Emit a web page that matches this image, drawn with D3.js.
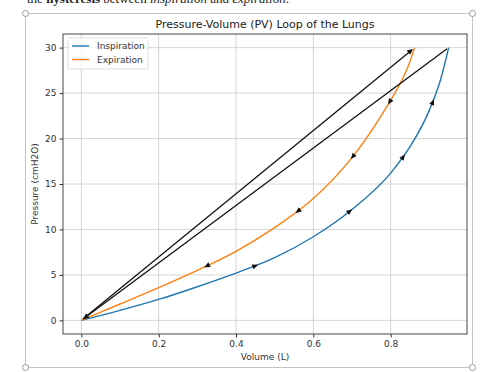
<!DOCTYPE html>
<html>
<head>
<meta charset="utf-8">
<script src="https://cdn.jsdelivr.net/npm/d3@7"></script>
<style>
  body { margin: 0; background: #fff; }
  svg { display: block; font-family: "DejaVu Sans", sans-serif; }
</style>
</head>
<body>
<div id="chart"></div>
<script>
// Inspiration curve, volume (L) vs pressure (cmH2O)
const inspVolume = [0, 0.1, 0.2, 0.3, 0.4, 0.5, 0.6, 0.7, 0.8, 0.85, 0.9, 0.93, 0.95];
const inspPressure = [0, 1.1, 2.3, 3.7, 5.2, 6.9, 9.2, 12.2, 16.2, 19.1, 23.1, 26.6, 30];

// Expiration curve, stored from the top back to the origin
const expVolume = [0.862, 0.84, 0.8, 0.7, 0.6, 0.5, 0.4, 0.3, 0.2, 0.1, 0];
const expPressure = [30, 27.4, 24.2, 17.9, 13.4, 10.2, 7.6, 5.5, 3.6, 1.8, 0];

// pressures where the direction arrows sit on each curve
const arrowPressures = [6, 12, 18, 24];

// the two straight black arrows: [from, to]
const blackArrows = [
    [[0, 0], [0.862, 30]],
    [[0.95, 30], [0, 0]]
];

const xTicks = [0, 0.2, 0.4, 0.6, 0.8];
const yTicks = [0, 5, 10, 15, 20, 25, 30];

const width = 480;
const height = 372;
const plot = { left: 63, right: 467, top: 34, bottom: 334 };

const svg = d3.select("#chart").append("svg")
    .attr("width", width)
    .attr("height", height);

// document text above the figure (cut off at the top)
const docText = svg.append("text")
    .attr("x", 27)
    .attr("y", 3)
    .attr("font-family", "Liberation Serif, serif")
    .attr("font-size", "13px")
    .attr("fill", "#222");
docText.append("tspan").text("the ");
docText.append("tspan").attr("font-weight", "bold").text("hysteresis");
docText.append("tspan").text(" between ");
docText.append("tspan").attr("font-style", "italic").text("inspiration");
docText.append("tspan").text(" and ");
docText.append("tspan").attr("font-style", "italic").text("expiration");
docText.append("tspan").text(".");

// picture frame
svg.append("rect")
    .attr("x", 25.5)
    .attr("y", 13.5)
    .attr("width", 447)
    .attr("height", 354)
    .attr("fill", "#fff")
    .attr("stroke", "#c4c4c4");

// scales
const x = d3.scaleLinear()
    .domain([-0.0475, 0.9975])
    .range([plot.left, plot.right]);

const y = d3.scaleLinear()
    .domain([-1.5, 31.5])
    .range([plot.bottom, plot.top]);

// grid
const g = svg.append("g");
xTicks.forEach(t => {
    g.append("line")
        .attr("x1", x(t)).attr("x2", x(t))
        .attr("y1", plot.top).attr("y2", plot.bottom)
        .attr("stroke", "#cccccc").attr("stroke-width", 0.8);
});
yTicks.forEach(t => {
    g.append("line")
        .attr("x1", plot.left).attr("x2", plot.right)
        .attr("y1", y(t)).attr("y2", y(t))
        .attr("stroke", "#cccccc").attr("stroke-width", 0.8);
});

// axes
const xAxis = svg.append("g")
    .attr("transform", `translate(0,${plot.bottom})`)
    .call(d3.axisBottom(x).tickValues(xTicks).tickFormat(d3.format(".1f")).tickSizeOuter(0).tickSize(3.5).tickPadding(3));
const yAxis = svg.append("g")
    .attr("transform", `translate(${plot.left},0)`)
    .call(d3.axisLeft(y).tickValues(yTicks).tickSizeOuter(0).tickSize(3.5).tickPadding(3));

[xAxis, yAxis].forEach(a => {
    a.select(".domain").remove();
    a.selectAll("text").attr("font-size", "9px").attr("fill", "#333").attr("font-family", "DejaVu Sans, sans-serif");
    a.selectAll("line").attr("stroke", "#333");
});

// spines
svg.append("rect")
    .attr("x", plot.left)
    .attr("y", plot.top)
    .attr("width", plot.right - plot.left)
    .attr("height", plot.bottom - plot.top)
    .attr("fill", "none")
    .attr("stroke", "#333")
    .attr("stroke-width", 0.9);

// title and labels
svg.append("text")
    .attr("x", (plot.left + plot.right) / 2)
    .attr("y", 28)
    .attr("text-anchor", "middle")
    .attr("font-size", "11px")
    .attr("fill", "#222")
    .text("Pressure-Volume (PV) Loop of the Lungs");

svg.append("text")
    .attr("x", (plot.left + plot.right) / 2)
    .attr("y", 360)
    .attr("text-anchor", "middle")
    .attr("font-size", "9px")
    .attr("fill", "#333")
    .text("Volume (L)");

svg.append("text")
    .attr("transform", `translate(38,${(plot.top + plot.bottom) / 2}) rotate(-90)`)
    .attr("text-anchor", "middle")
    .attr("font-size", "9px")
    .attr("fill", "#333")
    .text("Pressure (cmH2O)");

// curves
const inspLine = d3.line()
    .x(d => x(d[0]))
    .y(d => y(d[1]))
    .curve(d3.curveMonotoneX);

const expLine = d3.line()
    .x(d => x(d[0]))
    .y(d => y(d[1]))
    .curve(d3.curveCatmullRom.alpha(0.5));

const series = [
    { name: "Inspiration", color: "#1f77b4", pts: d3.zip(inspVolume, inspPressure), line: inspLine },
    { name: "Expiration", color: "#ff7f0e", pts: d3.zip(expVolume, expPressure), line: expLine }
];

function arrowHead(parent, px, py, angle, len, half) {
    const pts = [[len / 2, 0], [-len / 2, -half], [-len / 2, half]];
    parent.append("path")
        .attr("d", "M" + pts.join("L") + "Z")
        .attr("transform", `translate(${px},${py}) rotate(${angle * 180 / Math.PI})`)
        .attr("fill", "#111");
}

series.forEach(s => {
    const path = svg.append("path")
        .datum(s.pts)
        .attr("d", s.line)
        .attr("fill", "none")
        .attr("stroke", s.color)
        .attr("stroke-width", 1.4);

    // place arrows where the curve reaches each pressure
    const node = path.node();
    const total = node.getTotalLength();
    arrowPressures.forEach(p => {
        const target = y(p);
        let best = 0, bestD = Infinity;
        for (let l = 0; l <= total; l += 0.5) {
            const pt = node.getPointAtLength(l);
            const dd = Math.abs(pt.y - target);
            if (dd < bestD) { bestD = dd; best = l; }
        }
        const a = node.getPointAtLength(Math.max(0, best - 1));
        const b = node.getPointAtLength(Math.min(total, best + 1));
        const c = node.getPointAtLength(best);
        arrowHead(svg, c.x, c.y, Math.atan2(b.y - a.y, b.x - a.x), 6, 2.6);
    });
});

// straight black arrows
blackArrows.forEach(([from, to]) => {
    const x0 = x(from[0]), y0 = y(from[1]), x1 = x(to[0]), y1 = y(to[1]);
    const ang = Math.atan2(y1 - y0, x1 - x0);
    const shrink = 2;
    const ex = x1 - Math.cos(ang) * shrink, ey = y1 - Math.sin(ang) * shrink;
    const sx = x0 + Math.cos(ang) * shrink, sy = y0 + Math.sin(ang) * shrink;
    svg.append("line")
        .attr("x1", sx).attr("y1", sy)
        .attr("x2", ex - Math.cos(ang) * 4).attr("y2", ey - Math.sin(ang) * 4)
        .attr("stroke", "#111")
        .attr("stroke-width", 1.3);
    arrowHead(svg, ex - Math.cos(ang) * 3, ey - Math.sin(ang) * 3, ang, 6, 2.8);
});

// legend
const legend = svg.append("g").attr("transform", "translate(68,38)");
legend.append("rect")
    .attr("width", 80)
    .attr("height", 31)
    .attr("rx", 2)
    .attr("fill", "#fff")
    .attr("fill-opacity", 0.8)
    .attr("stroke", "#d6d6d6")
    .attr("stroke-width", 0.8);
series.forEach((s, i) => {
    const ly = 8 + i * 13.5;
    legend.append("line")
        .attr("x1", 4).attr("x2", 21)
        .attr("y1", ly).attr("y2", ly)
        .attr("stroke", s.color)
        .attr("stroke-width", 1.4);
    legend.append("text")
        .attr("x", 29)
        .attr("y", ly)
        .attr("dy", "0.35em")
        .attr("font-size", "9px")
        .attr("fill", "#333")
        .text(s.name);
});

// frame handles
[[25.5, 13.5], [472.5, 13.5], [25.5, 367.5], [472.5, 367.5]].forEach(([cx, cy]) => {
    svg.append("circle")
        .attr("cx", cx).attr("cy", cy).attr("r", 3)
        .attr("fill", "#fff")
        .attr("stroke", "#999");
});
</script>
</body>
</html>
